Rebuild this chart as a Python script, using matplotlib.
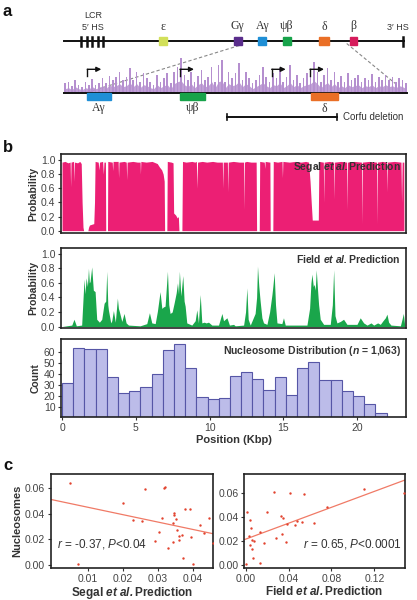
import numpy as np
import matplotlib as mpl
import matplotlib.pyplot as plt
from matplotlib.patches import Rectangle

mpl.rcParams.update({
    "font.family": "Liberation Sans",
    "mathtext.fontset": "custom",
    "mathtext.rm": "Liberation Sans",
    "mathtext.it": "Liberation Sans:italic",
    "mathtext.bf": "Liberation Sans:bold",
    "mathtext.bfit": "Liberation Sans:bold:italic",
    "axes.edgecolor": "#222222",
    "axes.linewidth": 1.2,
    "xtick.color": "#333333",
    "ytick.color": "#333333",
    "xtick.labelcolor": "#444444",
    "ytick.labelcolor": "#444444",
    "xtick.major.size": 2.5,
    "ytick.major.size": 2.5,
    "xtick.major.pad": 1.5,
    "ytick.major.pad": 1.5,
    "xtick.labelsize": 7.5,
    "ytick.labelsize": 7.5,
})

# =========================
# Data
# =========================
# panel a: locus map (schematic positions)
lcr_hs = [81, 86.7, 92.3, 97.7, 103.3]
hs3 = 403.3
genes = ["ε", "Gγ", "Aγ", "ψβ", "δ", "β"]
gene_pos = [163.3, 237.7, 262.3, 286.7, 324.5, 353.3]
gene_width = [7.7, 8, 7.7, 7.7, 10, 6.7]
gene_colors = ["#d2e05a", "#5a2d8c", "#1f8fd6", "#17a34a", "#ea6f26", "#d61c5c"]

# zoomed region: genes below track, TSS arrows
zoom_genes = ["Aγ", "ψβ", "δ"]
zoom_gene_span = [(87.3, 111.0), (180.0, 205.0), (310.7, 338.3)]
zoom_gene_colors = ["#1f8fd6", "#17a34a", "#ea6f26"]
tss_pos = [87.3, 180.0, 271.7, 310.0]
corfu_span = (226.7, 337.3)

# purple signal heights along the zoomed region
track_h = [9.3, 11, 6.7, 12.7, 7.7, 5.3, 11, 7.7, 13.3, 7.7, 10, 14.3, 9.3, 16.7,
           12.7, 15.3, 21, 12.7, 16, 24.3, 12.7, 21, 11, 20, 14.3, 11, 7.7, 17.7,
           11, 14.3, 19.3, 9.3, 21, 26, 34.3, 17.7, 12.7, 21, 11, 16.7, 22.7, 12.7,
           16, 26, 11, 27.7, 32.7, 11, 21, 14.3, 19.3, 29.3, 12.7, 21, 14.3, 9.3,
           12.7, 17.7, 26, 16, 11, 19.3, 14.3, 24.3, 11, 16, 27.7, 12.7, 17.7, 10,
           14.3, 19.3, 21, 31, 21, 11, 17.7, 24.3, 12.7, 21, 11, 16.7, 11, 19.3,
           12.7, 14.3, 17.7, 11, 14.3, 12.7, 18.7, 11, 16, 12.7, 17.7, 12.7, 16,
           11, 14.3, 12.7, 9.3]
# lower, denser background of the same track
track_floor = [4, 5, 3, 6, 4, 3, 5, 4, 6, 4, 5, 7, 4, 8, 6, 7, 9, 6, 7, 10, 6, 9,
               5, 8, 7, 5, 4, 8, 5, 7, 8, 4, 9, 11, 12, 8, 6, 9, 5, 8, 10, 6, 7,
               11, 5, 11, 12, 5, 9, 7, 8, 11, 6, 9, 7, 4, 6, 8, 10, 7, 5, 8, 7,
               10, 5, 7, 10, 6, 8, 5, 7, 8, 9, 12, 9, 5, 8, 10, 6, 9, 5, 7, 5, 8,
               6, 7, 8, 5, 7, 6, 8, 5, 7, 6, 8, 6, 7, 5, 7, 6, 4]

# panel b: Segal prediction profile (kbp, probability)
seg_x = [0.00, 0.20, 0.40, 0.55, 0.58, 0.61, 0.78, 0.81, 0.84, 1.05, 1.20, 1.30,
         1.36, 1.42, 1.46, 1.75, 1.80, 1.86, 2.15, 2.20, 2.24, 2.45, 2.50, 2.54,
         2.75, 2.80, 2.84, 2.94, 2.96, 3.08, 3.10, 3.40, 3.43, 3.46, 3.80, 3.83,
         3.86, 4.20, 4.35, 4.38, 4.41, 4.80, 5.10, 5.29, 5.31, 5.34, 5.70, 6.10,
         6.45, 6.60, 6.75, 6.85, 6.92, 6.95, 7.10, 7.13, 7.40, 7.52, 7.56, 7.70,
         7.80, 7.88, 7.92, 8.12, 8.16, 8.40, 8.80, 9.00, 9.10, 9.14, 9.18, 9.50,
         9.80, 10.20, 10.50, 10.86, 10.89, 10.92, 11.20, 11.23, 11.26, 11.60,
         12.00, 12.30, 12.33, 12.36, 12.50, 12.80, 13.15, 13.18, 13.36, 13.39,
         13.70, 13.73, 13.76, 14.08, 14.10, 14.28, 14.31, 14.60, 14.90, 14.93,
         14.96, 15.40, 15.80, 16.20, 16.50, 16.70, 16.80, 16.88, 16.95, 17.36,
         17.40, 17.70, 17.73, 17.76, 18.10, 18.40, 18.43, 18.46, 18.90, 19.28,
         19.31, 19.34, 19.80, 20.28, 20.31, 20.34, 20.80, 21.30, 21.33, 21.36,
         21.70, 21.98, 22.01, 22.04, 22.50, 22.96, 23.00, 23.04, 23.15, 23.16]
seg_y = [0.97, 0.98, 0.96, 0.97, 0.62, 0.97, 0.98, 0.70, 0.97, 0.96, 0.98, 0.95,
         0.40, 0.05, 0.00, 0.00, 0.05, 0.08, 0.10, 0.40, 0.98, 0.97, 0.86, 0.97,
         0.98, 0.80, 0.97, 0.97, 0.00, 0.00, 0.98, 0.97, 0.85, 0.98, 0.98, 0.75,
         0.97, 0.98, 0.97, 0.72, 0.97, 0.98, 0.97, 0.97, 0.80, 0.98, 0.97, 0.98,
         0.95, 0.90, 0.86, 0.80, 0.70, 0.00, 0.00, 0.98, 0.97, 0.96, 0.25, 0.22,
         0.18, 0.20, 0.00, 0.00, 0.98, 0.97, 0.98, 0.97, 0.98, 0.60, 0.97, 0.98,
         0.97, 0.98, 0.97, 0.97, 0.60, 0.97, 0.97, 0.55, 0.97, 0.98,
         0.97, 0.97, 0.30, 0.97, 0.98, 0.97, 0.97, 0.00, 0.00, 0.98,
         0.97, 0.88, 0.98, 0.97, 0.00, 0.00, 0.98, 0.97, 0.98, 0.75,
         0.98, 0.97, 0.98, 0.97, 0.98, 0.97, 0.70, 0.40, 0.15, 0.15,
         0.98, 0.97, 0.40, 0.97, 0.98, 0.97, 0.45, 0.97, 0.98, 0.97,
         0.30, 0.97, 0.98, 0.97, 0.10, 0.97, 0.98, 0.97, 0.10, 0.97,
         0.98, 0.97, 0.55, 0.97, 0.98, 0.97, 0.40, 0.97, 0.97, 0.00]

# panel b: Field prediction profile (kbp, probability)
field_x = [0.00, 0.32, 0.66, 0.81, 0.97, 1.33, 1.49, 1.56, 1.63, 1.72, 1.79, 1.85,
           1.90, 2.01, 2.12, 2.24, 2.35, 2.53, 2.69, 2.85, 2.96, 3.03, 3.10, 3.14,
           3.30, 3.37, 3.48, 3.61, 3.75, 3.82, 3.89, 4.05, 4.20, 4.34, 4.50, 5.29,
           5.74, 5.92, 6.08, 6.31, 6.46, 6.64, 6.76, 6.87, 6.98, 7.14, 7.23, 7.32,
           7.46, 7.59, 7.73, 7.82, 7.89, 7.95, 8.05, 8.18, 8.27, 8.34, 8.45, 8.79,
           9.02, 9.13, 9.24, 9.36, 9.47, 9.63, 9.76, 9.92, 10.15, 10.60, 10.83,
           10.94, 11.05, 11.17, 11.34, 11.62, 11.73, 12.30, 12.43, 12.52, 12.61,
           12.75, 13.08, 13.18, 13.24, 13.33, 13.42, 13.54, 13.65, 13.88, 14.06,
           14.22, 14.28, 14.37, 14.46, 14.56, 14.89, 15.00, 15.12, 15.68, 16.59,
           16.77, 16.86, 16.93, 17.02, 17.08, 17.15, 17.22, 17.31, 17.38, 17.49,
           17.72, 18.17, 18.31, 18.40, 18.49, 18.62, 18.85, 19.07, 19.30, 19.98,
           20.20, 20.43, 20.66, 20.93, 21.11, 21.38, 21.56, 21.74, 21.90, 22.01,
           22.12, 22.28, 22.92, 23.03, 23.12, 23.21]
field_y = [0.00, 0.01, 0.02, 0.10, 0.01, 0.02, 0.65, 0.45, 0.67, 0.55, 0.80, 0.60,
           0.62, 0.82, 0.50, 0.48, 0.10, 0.06, 0.10, 0.32, 0.35, 0.76, 0.30, 0.23,
           0.05, 0.08, 0.22, 0.06, 0.39, 0.25, 0.20, 0.07, 0.18, 0.05, 0.02, 0.01,
           0.04, 0.19, 0.05, 0.04, 0.21, 0.48, 0.25, 0.27, 0.28, 0.76, 0.30, 0.18,
           0.20, 0.32, 0.46, 0.60, 0.45, 0.76, 0.42, 0.70, 0.35, 0.28, 0.05, 0.02,
           0.08, 0.23, 0.05, 0.44, 0.05, 0.06, 0.05, 0.06, 0.02, 0.02, 0.18,
           0.08, 0.10, 0.12, 0.02, 0.03, 0.01, 0.02, 0.20, 0.53, 0.10,
           0.02, 0.18, 0.40, 0.83, 0.55, 0.35, 0.12, 0.05, 0.03, 0.20,
           0.44, 0.55, 0.74, 0.30, 0.05, 0.04, 0.12, 0.02, 0.02, 0.02,
           0.25, 0.60, 0.72, 0.55, 0.58, 0.50, 0.78, 0.50, 0.30, 0.10,
           0.03, 0.03, 0.30, 0.78, 0.15, 0.05, 0.07, 0.10, 0.03, 0.03,
           0.12, 0.05, 0.02, 0.05, 0.02, 0.05, 0.03, 0.08, 0.12, 0.17,
           0.06, 0.02, 0.01, 0.10, 0.18, 0.02]

# panel b: nucleosome histogram
hist_bin_width = 0.758
hist_counts = [32, 64, 63, 63, 37, 23, 25, 28, 40, 62, 67, 46, 19, 17, 18, 38,
               42, 36, 26, 37, 21, 46, 51, 35, 35, 25, 20, 13, 5]

# panel c: correlation scatter
segal_pred = [0.0050, 0.0071, 0.0263, 0.0202, 0.0229, 0.0255, 0.0318, 0.0322,
              0.0312, 0.0305, 0.0291, 0.0330, 0.0347, 0.0347, 0.0351, 0.0345,
              0.0345, 0.0354, 0.0362, 0.0369, 0.0360, 0.0371, 0.0379, 0.0392,
              0.0394, 0.0401, 0.0420, 0.0433, 0.0446, 0.0457]
segal_nuc = [0.0642, 0.0008, 0.0592, 0.0488, 0.0352, 0.0342, 0.0600, 0.0608,
             0.0363, 0.0253, 0.0185, 0.0128, 0.0404, 0.0389, 0.0357, 0.0330,
             0.0175, 0.0274, 0.0222, 0.0230, 0.0196, 0.0052, 0.0436, 0.0436,
             0.0214, 0.0008, 0.0310, 0.0248, 0.0368, 0.0170]
field_pred = [0.0009, 0.0040, 0.0050, 0.0034, 0.0056, 0.0081, 0.0040, 0.0062,
              0.0071, 0.0134, 0.0134, 0.0174, 0.0202, 0.0267, 0.0283, 0.0330,
              0.0336, 0.0351, 0.0373, 0.0382, 0.0413, 0.0460, 0.0482, 0.0528,
              0.0547, 0.0640, 0.0755, 0.1107, 0.1480, 0.0005]
field_nuc = [0.0436, 0.0370, 0.0307, 0.0244, 0.0211, 0.0197, 0.0170, 0.0134,
             0.0060, 0.0019, 0.0274, 0.0184, 0.0436, 0.0603, 0.0225, 0.0403,
             0.0258, 0.0389, 0.0189, 0.0342, 0.0595, 0.0329, 0.0362, 0.0356,
             0.0584, 0.0348, 0.0477, 0.0630, 0.0595, 0.0012]
segal_fit = (-0.58, 0.0509)   # slope, intercept
field_fit = (0.328, 0.0216)

PINK = "#ec1f74"
GREEN = "#1aa64b"
PURPLE = "#b58fcf"
RED = "#e2432f"
LINE_RED = "#f07a66"
TXT = "#333333"

W, H = 417, 600
fig = plt.figure(figsize=(W / 100, H / 100), dpi=100)


def px_box(l, t, r, b):
    return [l / W, 1 - b / H, (r - l) / W, (b - t) / H]


# "Name et al. Prediction" with italic et al.
def pred_label(name):
    return name + r" $\mathbfit{et\ al.}$" + "Prediction"


# =========================
# Panel a (drawn in pixel coords)
# =========================
axa = fig.add_axes([0, 0, 1, 1])
axa.set_xlim(0, W)
axa.set_ylim(H, 0)
axa.axis("off")

for lab, y in [("a", 12), ("b", 147), ("c", 465)]:
    axa.text(3, y, lab, fontsize=12, fontweight="bold", va="center", color="#111")

axa.plot([64, 404], [41, 41], color="#111", lw=1.4, zorder=2)
for x in lcr_hs + [hs3]:
    axa.plot([x, x], [37, 45.5], color="#111", lw=1.8, zorder=2)
axa.text(93, 16, "LCR", ha="center", va="center", fontsize=6.5, color=TXT)
axa.text(93, 27, "5′ HS", ha="center", va="center", fontsize=6.5, color=TXT)
axa.text(398, 27, "3′ HS", ha="center", va="center", fontsize=6.5, color=TXT)

for g, x, w, c in zip(genes, gene_pos, gene_width, gene_colors):
    axa.add_patch(Rectangle((x - w / 2, 37.3), w, 7.6, color=c, zorder=3))
    axa.text(x, 26.5, g, ha="center", va="center", fontsize=8.5,
             family="Liberation Serif", color=TXT)

# dashed zoom lines
axa.plot([239.3, 86], [45.5, 92.7], ls=(0, (3, 2)), color="#888", lw=0.8, zorder=1)
axa.plot([346.7, 395], [43.5, 83.3], ls=(0, (3, 2)), color="#888", lw=0.8, zorder=1)

# purple signal track
base = 92.7
tx = np.linspace(65, 406, len(track_h))
axa.fill_between(tx, base, base - np.array(track_floor), color=PURPLE, lw=0,
                 alpha=0.85, zorder=1.5)
axa.bar(tx, -np.array(track_h), bottom=base, width=1.6, color=PURPLE, lw=0,
        zorder=1.6)
axa.plot([64, 407], [base, base], color="#111", lw=1.4, zorder=2)

for g, (x0, x1), c in zip(zoom_genes, zoom_gene_span, zoom_gene_colors):
    axa.add_patch(Rectangle((x0, base), x1 - x0, 7.8, color=c, zorder=3))
    axa.text((x0 + x1) / 2, 108.5, g, ha="center", va="center", fontsize=8.5,
             family="Liberation Serif", color=TXT)

for x in tss_pos:
    axa.plot([x, x], [76, 69.3], color="#111", lw=1.0, zorder=3)
    axa.annotate("", xy=(x + 14, 69.3), xytext=(x, 69.3),
                 arrowprops=dict(arrowstyle="-|>", color="#111", lw=1.0,
                                 mutation_scale=7, shrinkA=0, shrinkB=0),
                 zorder=3)

c0, c1 = corfu_span
axa.plot([c0, c1], [116.7, 116.7], color="#111", lw=1.4)
for x in (c0, c1):
    axa.plot([x, x], [113.7, 119.7], color="#111", lw=1.2)
axa.text(c1 + 6, 116.7, "Corfu deletion", ha="left", va="center", fontsize=7,
         color=TXT)

# =========================
# Panel b
# =========================
xlim_b = (-0.07, 23.3)

ax1 = fig.add_axes(px_box(61, 154, 406, 233))
ax1.fill_between(seg_x, seg_y, 0, color=PINK, lw=0)
ax1.set_xlim(*xlim_b)
ax1.set_ylim(-0.033, 1.085)
ax1.set_xticks([])
ax1.set_yticks(np.arange(0, 1.01, 0.2))
ax1.set_yticklabels([f"{v:.1f}" for v in np.arange(0, 1.01, 0.2)])
ax1.set_ylabel("Probability", fontsize=7.5, fontweight="bold", color=TXT, labelpad=2)
ax1.text(0.985, 0.83, pred_label("Segal"), transform=ax1.transAxes,
         ha="right", va="center", fontsize=7.5, fontweight="bold", color=TXT)

ax2 = fig.add_axes(px_box(61, 248, 406, 328))
ax2.fill_between(field_x, field_y, 0, color=GREEN, lw=0)
ax2.set_xlim(*xlim_b)
ax2.set_ylim(-0.02, 1.08)
ax2.set_xticks([])
ax2.set_yticks(np.arange(0, 1.01, 0.2))
ax2.set_yticklabels([f"{v:.1f}" for v in np.arange(0, 1.01, 0.2)])
ax2.set_ylabel("Probability", fontsize=7.5, fontweight="bold", color=TXT, labelpad=2)
ax2.text(0.985, 0.86, pred_label("Field"), transform=ax2.transAxes,
         ha="right", va="center", fontsize=7.5, fontweight="bold", color=TXT)

ax3 = fig.add_axes(px_box(61, 339, 406, 417))
edges = np.arange(len(hist_counts)) * hist_bin_width
ax3.bar(edges, hist_counts, width=hist_bin_width, align="edge",
        facecolor="#bcbce9", edgecolor="#5656a6", lw=0.8)
ax3.set_xlim(*xlim_b)
ax3.set_ylim(1, 72)
ax3.set_xticks([0, 5, 10, 15, 20])
ax3.set_yticks(np.arange(10, 61, 10))
ax3.set_ylabel("Count", fontsize=7.5, fontweight="bold", color=TXT, labelpad=2)
ax3.set_xlabel("Position (Kbp)", fontsize=8, fontweight="bold", color=TXT, labelpad=2)
ax3.text(0.985, 0.85, r"Nucleosome Distribution ($\mathbfit{n}$ = 1,063)",
         transform=ax3.transAxes, ha="right", va="center", fontsize=7.5,
         fontweight="bold", color=TXT)

# =========================
# Panel c
# =========================
axl = fig.add_axes(px_box(50.7, 474, 213.3, 568))
axl.scatter(segal_pred, segal_nuc, s=3, color=RED, lw=0, zorder=3)
xs = np.array([-0.001, 0.047])
axl.plot(xs, segal_fit[0] * xs + segal_fit[1], color=LINE_RED, lw=0.9)
axl.set_xlim(-0.0006, 0.0459)
axl.set_ylim(-0.0026, 0.0712)
axl.set_xticks([0.01, 0.02, 0.03, 0.04])
axl.set_yticks([0, 0.02, 0.04, 0.06])
axl.set_yticklabels(["0.00", "0.02", "0.04", "0.06"])
axl.set_ylabel("Nucleosomes", fontsize=8, fontweight="bold", color=TXT, labelpad=2)
axl.set_xlabel(pred_label("Segal"), fontsize=8.5,
               fontweight="bold", color=TXT, labelpad=1)
axl.text(0.04, 0.26, r"$\mathit{r}$ = -0.37, $\mathit{P}$<0.04", transform=axl.transAxes,
         ha="left", va="center", fontsize=8.5, color=TXT)

axr = fig.add_axes(px_box(244, 474, 405, 568))
axr.scatter(field_pred, field_nuc, s=3, color=RED, lw=0, zorder=3)
xs = np.array([-0.002, 0.15])
axr.plot(xs, field_fit[0] * xs + field_fit[1], color=LINE_RED, lw=0.9)
axr.set_xlim(-0.0016, 0.1486)
axr.set_ylim(-0.0022, 0.0753)
axr.set_xticks([0, 0.04, 0.08, 0.12])
axr.set_xticklabels(["0.00", "0.04", "0.08", "0.12"])
axr.set_yticks([0, 0.02, 0.04, 0.06])
axr.set_yticklabels(["0.00", "0.02", "0.04", "0.06"])
axr.set_xlabel(pred_label("Field"), fontsize=8.5,
               fontweight="bold", color=TXT, labelpad=1)
axr.text(0.98, 0.26, r"$\mathit{r}$ = 0.65, $\mathit{P}$<0.0001", transform=axr.transAxes,
         ha="right", va="center", fontsize=8.5, color=TXT)

fig.savefig("out.png", dpi=100)
